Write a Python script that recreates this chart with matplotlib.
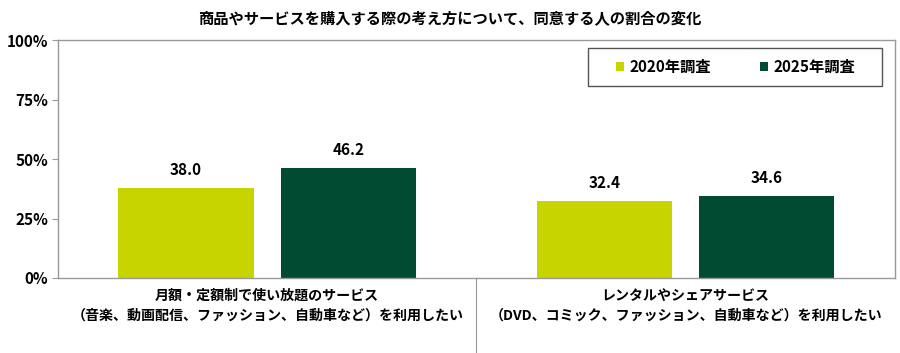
import matplotlib.pyplot as plt
from matplotlib.patches import Rectangle
import numpy as np

plt.rcParams['font.family'] = ['Noto Sans CJK JP', 'DejaVu Sans']

title = "商品やサービスを購入する際の考え方について、同意する人の割合の変化"
categories = ["月額・定額制で使い放題のサービス\n（音楽、動画配信、ファッション、自動車など）を利用したい",
              "レンタルやシェアサービス\n（DVD、コミック、ファッション、自動車など）を利用したい"]
series = ["2020年調査", "2025年調査"]
vals_2020 = [38.0, 32.4]
vals_2025 = [46.2, 34.6]
yticks = [0, 25, 50, 75, 100]
colors = ["#C8D400", "#004B32"]

fig = plt.figure(figsize=(9, 3.53), dpi=100)
ax = fig.add_axes([0.0644, 0.2125, 0.930, 0.674])

x = np.arange(len(categories))
w = 0.323
off = 0.194
b1 = ax.bar(x - off, vals_2020, w, color=colors[0], label=series[0])
b2 = ax.bar(x + off, vals_2025, w, color=colors[1], label=series[1])

for bars in (b1, b2):
    for b in bars:
        ax.annotate(f"{b.get_height():.1f}", (b.get_x() + b.get_width() / 2, b.get_height()),
                    xytext=(0, 7), textcoords="offset points", ha="center", va="bottom",
                    fontsize=11, fontweight="bold")

ax.set_xlim(-0.5, 1.5)
ax.set_ylim(0, 100)
ax.set_yticks(yticks)
ax.set_yticklabels([f"{t}%" for t in yticks], fontsize=11, fontweight="bold")
ax.set_xticks([])
for s in ax.spines.values():
    s.set_color("#999999")
    s.set_linewidth(1)
ax.tick_params(axis="y", length=4, color="#999999", pad=3)

# category labels and separator
for i, c in enumerate(categories):
    ax.text(i, -4.5, c, ha="center", va="top", fontsize=10.1, fontweight="bold",
            linespacing=1.5, transform=ax.transData, clip_on=False)
ax.plot([0.5, 0.5], [0, -0.32], transform=ax.transAxes, color="#999999", lw=0.8, clip_on=False)

# legend box
ax.add_patch(Rectangle((0.633, 0.807), 0.3515, 0.159, transform=ax.transAxes,
                       facecolor="white", edgecolor="#555555", lw=1, zorder=4))
leg = ax.legend(loc="center", bbox_to_anchor=(0.81, 0.8865), ncol=2, frameon=False,
                handlelength=0.5, handleheight=0.5, handletextpad=0.4, columnspacing=3.2,
                prop={"weight": "bold", "size": 11})
leg.set_zorder(5)

fig.text(0.5, 0.95, title, ha="center", va="center", fontsize=11, fontweight="bold")

fig.savefig("out.png", dpi=100)
